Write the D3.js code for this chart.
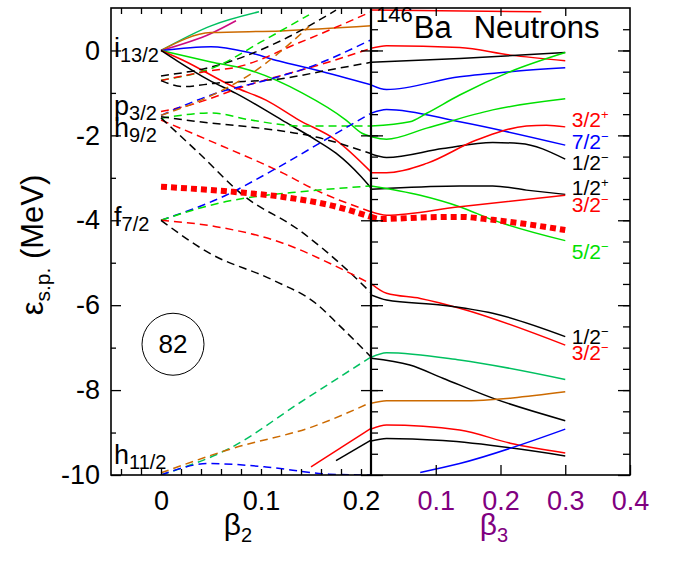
<!DOCTYPE html>
<html><head><meta charset="utf-8">
<script src="https://cdn.jsdelivr.net/npm/d3@7"></script>
<style>
body{margin:0;background:#fff}
svg{display:block}
text{font-family:"Liberation Sans",Arial,Helvetica,sans-serif}
</style>
</head><body>
<svg id="c" width="675" height="565"></svg>
<script>
// ---------- data ----------
const energyMajorTicks = [0,-2,-4,-6,-8,-10];
const energyMinorTicks = [-1,-3,-5,-7,-9];
const energyHalfTicks = [0.5,0,-0.5,-1,-1.5,-2,-2.5,-3,-3.5,-4,-4.5,-5,-5.5,-6,-6.5,-7,-7.5,-8,-8.5,-9,-9.5];
const beta2Labels = [0,0.1,0.2];
const beta2Minor = [-0.04,-0.02,0,0.02,0.04,0.06,0.08,0.1,0.12,0.14,0.16,0.18,0.2];
const beta3Labels = [0.1,0.2,0.3,0.4];

// left panel (beta2, E MeV); solid = positive parity, dashed = negative parity
const lS_11 = [[0,0],[0.05,0.58],[0.098,0.91]];
const lS_13 = [[0,0],[0.05,0.40],[0.075,0.70]];
const lS_9  = [[0,0],[0.05,0.42],[0.12,0.46],[0.21,0.58]];
const lS_7  = [[0,0],[0.05,0.09],[0.088,-0.05],[0.118,-0.25],[0.155,-0.46],[0.21,-0.81]];
const lS_5  = [[0,0],[0.05,-0.27],[0.088,-0.46],[0.141,-1.00],[0.185,-1.64],[0.201,-1.95],[0.21,-2.03]];
const lS_3  = [[0,0],[0.022,-0.23],[0.072,-0.85],[0.105,-1.17],[0.138,-1.64],[0.175,-2.11],[0.21,-2.86]];
const lS_1  = [[0,0],[0.015,-0.23],[0.048,-0.70],[0.075,-1.01],[0.121,-1.64],[0.155,-2.11],[0.175,-2.42],[0.2,-2.97],[0.21,-3.24]];
const lS_3low = [[0.15,-9.81],[0.21,-8.90]];
const lS_1low = [[0.175,-9.66],[0.21,-9.18]];

const lD_f5_1a = [[0,-0.60],[0.055,-0.36],[0.12,0.23],[0.175,0.95]];
const lD_f5_5  = [[0,-0.70],[0.055,-0.38],[0.1,0.20],[0.148,0.84]];
const lD_f5_3  = [[0,-0.71],[0.055,-0.46],[0.072,-0.41],[0.138,0.18],[0.21,0.91]];
const lD_f5_1b = [[0,-0.71],[0.022,-0.85],[0.055,-0.77],[0.122,-0.66],[0.168,-0.46],[0.21,-0.28]];
const lD_p3_3  = [[0,-1.44],[0.022,-1.33],[0.088,-0.81],[0.168,-0.27],[0.21,0.05]];
const lD_h9_7  = [[0,-1.53],[0.055,-1.01],[0.105,-0.70],[0.145,-0.42],[0.21,0.25]];
const lD_h9_9  = [[0,-1.53],[0.055,-1.01],[0.09,-0.55],[0.148,0.56]];
const lD_h9_5  = [[0,-1.60],[0.05,-1.47],[0.09,-1.64],[0.14,-1.78],[0.21,-1.78]];
const lD_h9_1  = [[0,-1.56],[0.038,-1.68],[0.088,-1.80],[0.155,-2.04],[0.21,-2.43]];
const lD_h9_3  = [[0,-1.64],[0.055,-2.19],[0.122,-2.89],[0.155,-3.29],[0.21,-3.80]];
const lD_p3_1  = [[0,-1.59],[0.038,-2.42],[0.082,-3.41],[0.138,-4.23],[0.188,-5.21],[0.21,-5.71]];
const lD_f7_7  = [[0,-4.0],[0.065,-3.41],[0.112,-2.82],[0.198,-1.64],[0.21,-1.48]];
const lD_f7_5  = [[0,-4.0],[0.065,-3.56],[0.105,-3.41],[0.138,-3.33],[0.21,-3.19]];
const lD_f7_3  = [[0,-4.0],[0.055,-4.15],[0.122,-4.54],[0.172,-5.05],[0.21,-5.50]];
const lD_f7_1  = [[0,-4.0],[0.048,-4.77],[0.112,-5.41],[0.155,-5.96],[0.178,-6.47],[0.21,-7.22]];
const lD_h11_11 = [[0,-10],[0.072,-9.33],[0.138,-8.31],[0.21,-7.22]];
const lD_h11_9  = [[0,-9.95],[0.072,-9.37],[0.152,-8.86],[0.21,-8.29]];
const lD_h11_7  = [[0,-10],[0.048,-9.73],[0.105,-9.81],[0.168,-9.98],[0.21,-10]];

const fermiLeft  = [[0,-3.21],[0.072,-3.33],[0.122,-3.45],[0.172,-3.66],[0.21,-3.92]];
const fermiRight = [[0,-3.92],[0.014,-3.97],[0.086,-3.93],[0.137,-3.92],[0.188,-3.99],[0.3,-4.23]];

// right panel (beta3, E MeV)
const r_3top = [[0,0.95],[0.263,0.91]];
const r_3a = [[0,0.05],[0.024,0.11],[0.137,0.07],[0.215,-0.11],[0.3,-0.24]];
const r_1a = [[0,-0.28],[0.137,-0.19],[0.3,-0.05]];
const r_7a = [[0,-0.81],[0.024,-0.92],[0.137,-0.62],[0.215,-0.50],[0.3,-0.41]];
const r_7b = [[0,-1.48],[0.024,-1.39],[0.137,-1.68],[0.3,-2.23]];
const r_5a = [[0,-1.78],[0.06,-1.68],[0.086,-1.48],[0.137,-1.05],[0.215,-0.50],[0.3,-0.05]];
const r_5b = [[0,-2.03],[0.024,-2.09],[0.086,-1.83],[0.188,-1.40],[0.3,-1.14]];
const r_1b = [[0,-2.44],[0.024,-2.52],[0.111,-2.31],[0.188,-2.17],[0.23,-2.19],[0.3,-2.56]];
const r_3b = [[0,-2.88],[0.024,-2.88],[0.086,-2.66],[0.163,-2.11],[0.24,-1.78],[0.271,-1.76],[0.3,-1.80]];
const r_1c = [[0,-3.27],[0.024,-3.25],[0.137,-3.19],[0.188,-3.19],[0.24,-3.29],[0.3,-3.39]];
const r_5c = [[0,-3.19],[0.076,-3.41],[0.137,-3.68],[0.188,-3.99],[0.3,-4.48]];
const r_3c = [[0,-3.80],[0.024,-3.88],[0.137,-3.68],[0.3,-3.41]];
const r_3d = [[0,-5.49],[0.024,-5.72],[0.076,-5.84],[0.137,-6.07],[0.3,-6.94]];
const r_1d = [[0,-5.76],[0.024,-5.88],[0.111,-6.00],[0.188,-6.19],[0.3,-6.74]];
const r_11 = [[0,-7.23],[0.024,-7.12],[0.137,-7.29],[0.3,-7.75]];
const r_1e = [[0,-7.25],[0.06,-7.41],[0.111,-7.72],[0.188,-8.19],[0.3,-8.72]];
const r_9  = [[0,-8.31],[0.024,-8.25],[0.137,-8.25],[0.3,-8.04]];
const r_3e = [[0,-8.92],[0.024,-8.82],[0.137,-8.94],[0.215,-9.25],[0.3,-9.48]];
const r_1f = [[0,-9.20],[0.024,-9.14],[0.111,-9.19],[0.3,-9.55]];
const r_7c = [[0.076,-9.94],[0.137,-9.73],[0.3,-8.92]];

const rightLabelText  = ["3/2","7/2","1/2","1/2","3/2","5/2","1/2","3/2"];
const rightLabelSign  = ["+","\u2212","\u2212","+","\u2212","\u2212","\u2212","\u2212"];
const rightLabelOmega = ["3/2","7/2","1/2","1/2","3/2","5/2","1/2","3/2"];
const rightLabelE     = [-1.64,-2.15,-2.66,-3.25,-3.64,-4.74,-6.74,-7.13];

const orbitalLetter = ["i","p","h","f","h"];
const orbitalJ      = ["13/2","3/2","9/2","7/2","11/2"];
const orbitalE      = [0,-1.35,-1.85,-4.0,-9.6];

// ---------- styles ----------
const omegaColor = {"1/2":"#000000","3/2":"#ff0000","5/2":"#00e000","7/2":"#0000ff","9/2":"#cc6a00","11/2":"#00c060","13/2":"#cc0a80"};

// ---------- scales ----------
const svg = d3.select("#c");
const y  = d3.scaleLinear().domain([-10,1]).range([475,8]);
const xL = d3.scaleLinear().domain([-0.05,0.21]).range([111,371]);
const xR = d3.scaleLinear().domain([0,0.4]).range([371,630]);

const defs = svg.append("defs");
defs.append("clipPath").attr("id","clipL").append("rect")
  .attr("x",xL(-0.05)).attr("y",y(1)).attr("width",xL(0.21)-xL(-0.05)).attr("height",y(-10)-y(1));
defs.append("clipPath").attr("id","clipR").append("rect")
  .attr("x",xR(0)).attr("y",y(1)).attr("width",xR(0.4)-xR(0)).attr("height",y(-10)-y(1));

const leftSeries = [
  [lS_11,"11/2",false],[lS_13,"13/2",false],[lS_9,"9/2",false],[lS_7,"7/2",false],
  [lS_5,"5/2",false],[lS_3,"3/2",false],[lS_1,"1/2",false],[lS_3low,"3/2",false],[lS_1low,"1/2",false],
  [lD_f5_1a,"1/2",true],[lD_f5_5,"5/2",true],[lD_f5_3,"3/2",true],[lD_f5_1b,"1/2",true],
  [lD_p3_3,"3/2",true],[lD_h9_7,"7/2",true],[lD_h9_9,"9/2",true],[lD_h9_5,"5/2",true],
  [lD_h9_1,"1/2",true],[lD_h9_3,"3/2",true],[lD_p3_1,"1/2",true],
  [lD_f7_7,"7/2",true],[lD_f7_5,"5/2",true],[lD_f7_3,"3/2",true],[lD_f7_1,"1/2",true],
  [lD_h11_11,"11/2",true],[lD_h11_9,"9/2",true],[lD_h11_7,"7/2",true]
];
const rightSeries = [
  [r_3top,"3/2"],[r_3a,"3/2"],[r_1a,"1/2"],[r_7a,"7/2"],[r_7b,"7/2"],[r_5a,"5/2"],[r_5b,"5/2"],
  [r_1b,"1/2"],[r_3b,"3/2"],[r_1c,"1/2"],[r_5c,"5/2"],[r_3c,"3/2"],[r_3d,"3/2"],[r_1d,"1/2"],
  [r_11,"11/2"],[r_1e,"1/2"],[r_9,"9/2"],[r_3e,"3/2"],[r_1f,"1/2"],[r_7c,"7/2"]
];

const lineL = d3.line().x(d=>xL(d[0])).y(d=>y(d[1])).curve(d3.curveMonotoneX);
const lineR = d3.line().x(d=>xR(d[0])).y(d=>y(d[1])).curve(d3.curveMonotoneX);

const gL = svg.append("g").attr("clip-path","url(#clipL)");
gL.selectAll("path.lv").data(leftSeries).join("path").attr("class","lv")
  .attr("d",d=>lineL(d[0])).attr("fill","none")
  .attr("stroke",d=>omegaColor[d[1]]).attr("stroke-width",1.5)
  .attr("stroke-dasharray",d=>d[2]?"8,5":null);
gL.append("path").attr("d",lineL(fermiLeft)).attr("fill","none")
  .attr("stroke","#ff0000").attr("stroke-width",6).attr("stroke-dasharray","6,4");

const gR = svg.append("g").attr("clip-path","url(#clipR)");
gR.selectAll("path.lv").data(rightSeries).join("path").attr("class","lv")
  .attr("d",d=>lineR(d[0])).attr("fill","none")
  .attr("stroke",d=>omegaColor[d[1]]).attr("stroke-width",1.5);
gR.append("path").attr("d",lineR(fermiRight)).attr("fill","none")
  .attr("stroke","#ff0000").attr("stroke-width",6).attr("stroke-dasharray","6,4");

// ---------- axes ----------
function clean(g){ g.select(".domain").remove(); g.selectAll(".tick line").attr("stroke","#000").attr("stroke-width",1.3); }
const tickFont = 27;

// left y axis
svg.append("g").attr("transform",`translate(${xL(-0.05)},0)`)
  .call(d3.axisLeft(y).tickValues(energyMajorTicks).tickSizeInner(-10).tickSizeOuter(0).tickPadding(11).tickFormat(d=>String(d)))
  .call(clean)
  .call(g=>g.selectAll("text").attr("font-size",tickFont).attr("fill","#000").attr("font-family","Liberation Sans, Arial, sans-serif"));
svg.append("g").attr("transform",`translate(${xL(-0.05)},0)`)
  .call(d3.axisLeft(y).tickValues(energyMinorTicks).tickSizeInner(-5).tickSizeOuter(0).tickFormat(""))
  .call(clean);

// divider axis
svg.append("g").attr("transform",`translate(${xR(0)},0)`)
  .call(d3.axisRight(y).tickValues(energyHalfTicks).tickSize(7).tickFormat("")).call(clean);
svg.append("g").attr("transform",`translate(${xR(0)},0)`)
  .call(d3.axisRight(y).tickValues(energyMajorTicks).tickSize(12).tickFormat("")).call(clean);
svg.append("g").attr("transform",`translate(${xR(0)},0)`)
  .call(d3.axisLeft(y).tickValues(energyMajorTicks).tickSize(10).tickFormat("")).call(clean);

// right frame axis
svg.append("g").attr("transform",`translate(${xR(0.4)},0)`)
  .call(d3.axisLeft(y).tickValues(energyHalfTicks).tickSize(7).tickFormat("")).call(clean);
svg.append("g").attr("transform",`translate(${xR(0.4)},0)`)
  .call(d3.axisLeft(y).tickValues(energyMajorTicks).tickSize(12).tickFormat("")).call(clean);

// left bottom/top
svg.append("g").attr("transform",`translate(0,${y(-10)})`)
  .call(d3.axisBottom(xL).tickValues(beta2Minor).tickSizeInner(-6).tickSizeOuter(0).tickFormat("")).call(clean);
svg.append("g").attr("transform",`translate(0,${y(-10)})`)
  .call(d3.axisBottom(xL).tickValues(beta2Labels).tickSizeInner(0).tickSizeOuter(0).tickPadding(16).tickFormat(d=>d===0?"0":String(d)))
  .call(clean)
  .call(g=>g.selectAll("text").attr("font-size",tickFont).attr("fill","#000").attr("font-family","Liberation Sans, Arial, sans-serif"));
svg.append("g").attr("transform",`translate(0,${y(1)})`)
  .call(d3.axisTop(xL).tickValues(beta2Minor).tickSizeInner(-6).tickSizeOuter(0).tickFormat("")).call(clean);

// right bottom/top
svg.append("g").attr("transform",`translate(0,${y(-10)})`)
  .call(d3.axisBottom(xR).tickValues(beta3Labels).tickSizeInner(-10).tickSizeOuter(0).tickPadding(16).tickFormat(d=>String(d)))
  .call(clean)
  .call(g=>g.selectAll("text").attr("font-size",tickFont).attr("fill","#800080").attr("font-family","Liberation Sans, Arial, sans-serif"));
svg.append("g").attr("transform",`translate(0,${y(1)})`)
  .call(d3.axisTop(xR).tickValues([0.1,0.2,0.3]).tickSizeInner(-8).tickSizeOuter(0).tickFormat("")).call(clean);

// frame
svg.append("rect").attr("x",xL(-0.05)).attr("y",y(1)).attr("width",xR(0.4)-xL(-0.05)).attr("height",y(-10)-y(1))
  .attr("fill","none").attr("stroke","#000").attr("stroke-width",1.6);
svg.append("line").attr("x1",xR(0)).attr("x2",xR(0)).attr("y1",y(1)).attr("y2",y(-10))
  .attr("stroke","#000").attr("stroke-width",2.2);

// ---------- texts ----------
// orbital labels
const orbOffsets = [7,7,8,6,6];
orbitalLetter.forEach((L,i)=>{
  const t = svg.append("text").attr("x",xL(-0.05)+3).attr("y",y(orbitalE[i])+orbOffsets[i]).attr("font-size",27).attr("fill","#000");
  t.append("tspan").text(L);
  t.append("tspan").attr("dy",5).attr("font-size",20).text(orbitalJ[i]);
});

// magic number
svg.append("circle").attr("cx",xL(0.012)).attr("cy",y(-6.92)).attr("r",31).attr("fill","none").attr("stroke","#000").attr("stroke-width",1);
svg.append("text").attr("x",xL(0.012)).attr("y",y(-6.92)+9).attr("text-anchor","middle").attr("font-size",26).text("82");

// title
const tt = svg.append("text").attr("x",xR(0)+5).attr("y",38).attr("font-size",31);
tt.append("tspan").attr("font-size",22).attr("dy",-16).text("146");
tt.append("tspan").attr("dy",16).attr("dx",1).text("Ba");
tt.append("tspan").attr("dx",22).text("Neutrons");

// right-side labels
rightLabelText.forEach((s,i)=>{
  const t = svg.append("text").attr("x",xR(0.31)).attr("y",y(rightLabelE[i])+7).attr("font-size",21)
    .attr("fill",omegaColor[rightLabelOmega[i]]);
  t.append("tspan").text(s);
  t.append("tspan").attr("dy",-8).attr("font-size",13).text(rightLabelSign[i]);
});

// axis titles
const yl = svg.append("text").attr("transform",`translate(43,245) rotate(-90)`).attr("text-anchor","middle").attr("font-size",31);
yl.append("tspan").text("\u03b5");
yl.append("tspan").attr("dy",7).attr("font-size",21).text("s.p.");
yl.append("tspan").attr("dy",-7).text(" (MeV)");

const b2 = svg.append("text").attr("x",xL(0.077)).attr("y",535).attr("text-anchor","middle").attr("font-size",30);
b2.append("tspan").text("\u03b2");
b2.append("tspan").attr("dy",7).attr("font-size",20).text("2");
const b3 = svg.append("text").attr("x",xR(0.19)).attr("y",535).attr("text-anchor","middle").attr("font-size",30).attr("fill","#800080");
b3.append("tspan").text("\u03b2");
b3.append("tspan").attr("dy",7).attr("font-size",20).text("3");
</script>
</body></html>
